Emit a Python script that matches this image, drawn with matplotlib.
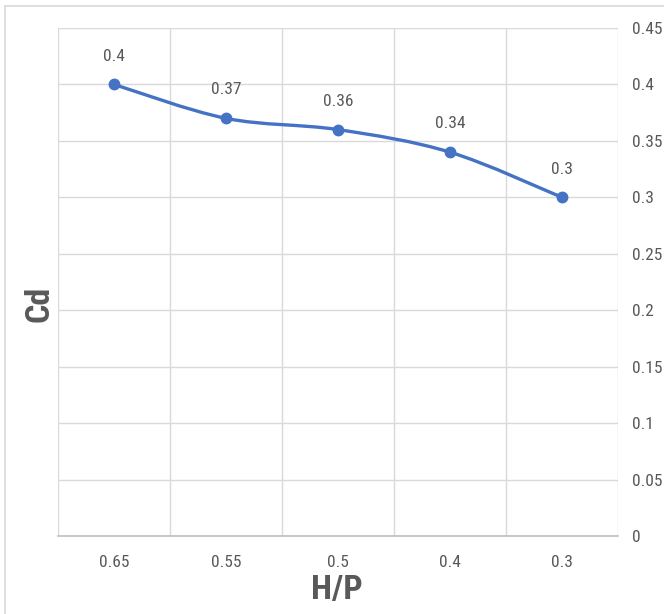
import numpy as np
import matplotlib.pyplot as plt
from matplotlib.path import Path
from matplotlib.patches import PathPatch
from matplotlib.lines import Line2D

# Kategorien (H/P) und gemessene Abflussbeiwerte Cd
hp_labels = ['0.65', '0.55', '0.5', '0.4', '0.3']
cd_values = [0.40, 0.37, 0.36, 0.34, 0.30]
y_ticks = [0, 0.05, 0.1, 0.15, 0.2, 0.25, 0.3, 0.35, 0.4, 0.45]

plt.rcParams['font.family'] = ['Roboto Condensed', 'Liberation Sans Narrow',
                               'Liberation Sans', 'DejaVu Sans']
grau = '#595959'
blau = '#4472C4'

fig = plt.figure(figsize=(6.64, 6.14), dpi=100)
ax = fig.add_axes([0.0873, 0.127, 0.8434, 0.8274])

x = np.arange(len(cd_values))
y = np.array(cd_values)

# geglaettete Linie wie in Excel (Bezier-Segmente)
verts = [(x[0], y[0])]
codes = [Path.MOVETO]
n = len(x)
for i in range(n - 1):
    p0 = np.array([x[max(i - 1, 0)], y[max(i - 1, 0)]])
    p1 = np.array([x[i], y[i]])
    p2 = np.array([x[i + 1], y[i + 1]])
    p3 = np.array([x[min(i + 2, n - 1)], y[min(i + 2, n - 1)]])
    c1 = p1 + (p2 - p0) / 6
    c2 = p2 - (p3 - p1) / 6
    verts += [tuple(c1), tuple(c2), tuple(p2)]
    codes += [Path.CURVE4] * 3
ax.add_patch(PathPatch(Path(verts, codes), fill=False, edgecolor=blau,
                       lw=2.4, capstyle='round', zorder=3))
ax.plot(x, y, 'o', color=blau, ms=7.5, zorder=4)

for xi, yi in zip(x, y):
    ax.annotate(f'{yi:g}', (xi, yi), xytext=(0, 15), textcoords='offset points',
                ha='center', va='bottom', fontsize=12.5, color=grau)

ax.set_xlim(-0.5, n - 0.5)
ax.set_ylim(0, 0.45)
ax.set_xticks(x)
ax.set_xticklabels(hp_labels)
ax.set_xticks(np.arange(-0.5, n, 1), minor=True)
ax.set_yticks(y_ticks)
ax.set_yticklabels([f'{t:g}' for t in y_ticks])
ax.yaxis.tick_right()
ax.tick_params(axis='both', which='both', length=0, labelsize=12.5,
               labelcolor=grau)
ax.tick_params(axis='x', pad=14)
ax.tick_params(axis='y', pad=10)

ax.grid(True, axis='y', color='#d9d9d9', lw=1)
ax.grid(True, axis='x', which='minor', color='#d9d9d9', lw=1)
for s in ['top', 'left', 'right']:
    ax.spines[s].set_visible(False)
ax.spines['bottom'].set_color('#bfbfbf')
ax.spines['bottom'].set_linewidth(1.2)

fig.text(0.508, 0.013, 'H/P', ha='center', va='bottom', fontsize=24.5,
         fontweight='bold', color=grau)
fig.text(0.06, 0.505, 'Cd', ha='center', va='center', rotation=90,
         fontsize=24.5, fontweight='bold', color=grau)

# Rahmen des Diagrammbereichs
fig.add_artist(Line2D([5 / 664, 1], [1 - 6 / 614, 1 - 6 / 614],
                      transform=fig.transFigure, color='#d9d9d9', lw=1.2))
fig.add_artist(Line2D([5 / 664, 5 / 664], [0, 1 - 6 / 614],
                      transform=fig.transFigure, color='#d9d9d9', lw=1.2))

fig.savefig('out.png', dpi=100)
